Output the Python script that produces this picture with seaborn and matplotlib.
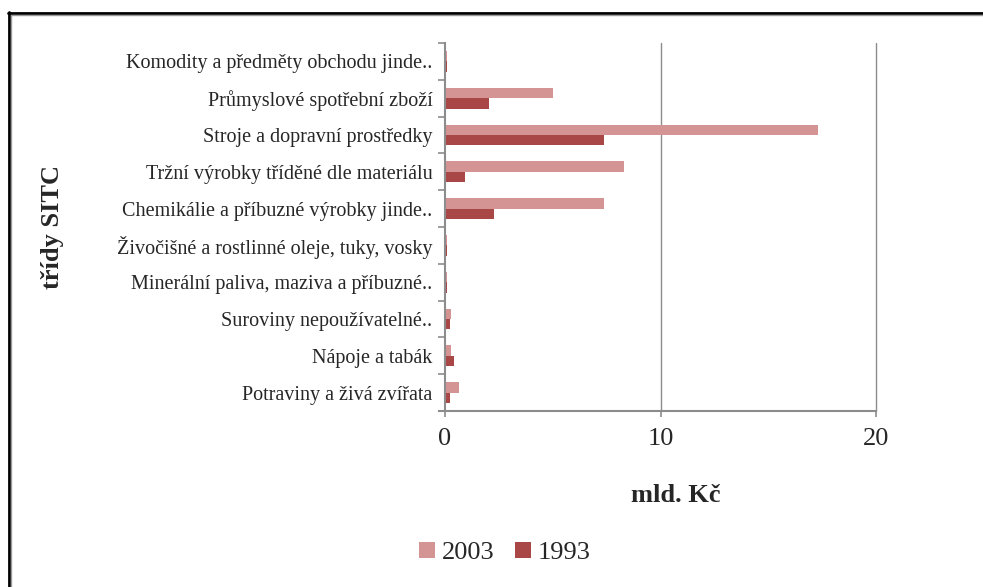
import pandas as pd
import matplotlib.pyplot as plt
import matplotlib
import seaborn as sns
from matplotlib.lines import Line2D

matplotlib.use("Agg")

# data (mld. Kč)
categories = [
    "Komodity a předměty obchodu jinde..",
    "Průmyslové spotřební zboží",
    "Stroje a dopravní prostředky",
    "Tržní výrobky tříděné dle materiálu",
    "Chemikálie a příbuzné výrobky jinde..",
    "Živočišné a rostlinné oleje, tuky, vosky",
    "Minerální paliva, maziva a příbuzné..",
    "Suroviny nepoužívatelné..",
    "Nápoje a tabák",
    "Potraviny a živá zvířata",
]
values_2003 = [0.1, 5.03, 17.3, 8.3, 7.4, 0.09, 0.08, 0.28, 0.28, 0.65]
values_1993 = [0.1, 2.04, 7.4, 0.94, 2.29, 0.1, 0.1, 0.22, 0.4, 0.22]
years = ["2003", "1993"]

df = pd.DataFrame({
    "trida": categories * 2,
    "hodnota": values_2003 + values_1993,
    "rok": ["2003"] * len(categories) + ["1993"] * len(categories),
})

sns.set_style("white")
plt.rcParams['font.family'] = ['Liberation Serif', 'DejaVu Serif']

fig = plt.figure(figsize=(9.83, 5.87), dpi=100)
ax = fig.add_axes([445 / 983, 1 - 411 / 587, 431 / 983, 368 / 587])

sns.barplot(data=df, x="hodnota", y="trida", hue="rok", order=categories,
            hue_order=years, palette=["#D49494", "#A94646"], width=0.57,
            saturation=1, linewidth=0, orient="h", ax=ax, legend=True)

ax.set_xlim(0, 20)
ax.set_xticks([0, 10, 20])
ax.set_ylim(len(categories) - 0.5, -0.5)
# ticks between categories, like Excel
ax.set_yticks([i + 0.5 for i in range(-1, len(categories))], minor=True)
ax.set_yticks(range(len(categories)))
ax.set_yticklabels(categories, fontsize=14.5)
ax.tick_params(axis="y", which="major", length=0, pad=9)
ax.tick_params(axis="y", which="minor", length=5, color="#8c8c8c", width=1.2, left=True)
ax.tick_params(axis="x", which="major", length=4.5, color="#8c8c8c", width=1.2,
               bottom=True, labelsize=19, pad=8)

ax.grid(False)
for x in [10, 20]:
    ax.axvline(x, color="#8c8c8c", lw=1, zorder=0, clip_on=False)
for side in ["top", "right"]:
    ax.spines[side].set_visible(False)
ax.spines["left"].set_color("#8c8c8c")
ax.spines["left"].set_linewidth(1.5)
ax.spines["bottom"].set_color("#8c8c8c")
ax.spines["bottom"].set_linewidth(1.5)
ax.spines["bottom"].set_bounds(-0.3, 20)

ax.set_xlabel("mld. Kč", fontsize=19, fontweight="bold")
ax.xaxis.label.set_va("center")
ax.xaxis.set_label_coords((676 - 445) / 431, -(495 - 411) / 368)
ax.set_ylabel("třídy SITC", fontsize=19, fontweight="bold")
ax.yaxis.label.set_va("center")
ax.yaxis.set_label_coords((52 - 445) / 431, 1 - (227 - 43) / 368)

handles, labels = ax.get_legend_handles_labels()
ax.legend_.remove()
fig.legend(handles, labels, loc="center", bbox_to_anchor=(505 / 983, 1 - 553 / 587),
           ncol=2, frameon=False, fontsize=19, handlelength=0.6, handleheight=0.6,
           handletextpad=0.25, columnspacing=0.8)

# outer frame (top and left visible)
fig.add_artist(Line2D([8 / 983, 1.01], [1 - 12.5 / 587] * 2, color="black", lw=2,
                      transform=fig.transFigure))
fig.add_artist(Line2D([8.5 / 983] * 2, [1 - 12 / 587, -0.01], color="black", lw=2,
                      transform=fig.transFigure))
fig.add_artist(Line2D([10.5 / 983, 1.01], [1 - 15 / 587] * 2, color="#9a9a9a", lw=1,
                      transform=fig.transFigure))
fig.add_artist(Line2D([11 / 983] * 2, [1 - 14.5 / 587, -0.01], color="#9a9a9a", lw=1,
                      transform=fig.transFigure))

fig.savefig("out.png", dpi=100)
